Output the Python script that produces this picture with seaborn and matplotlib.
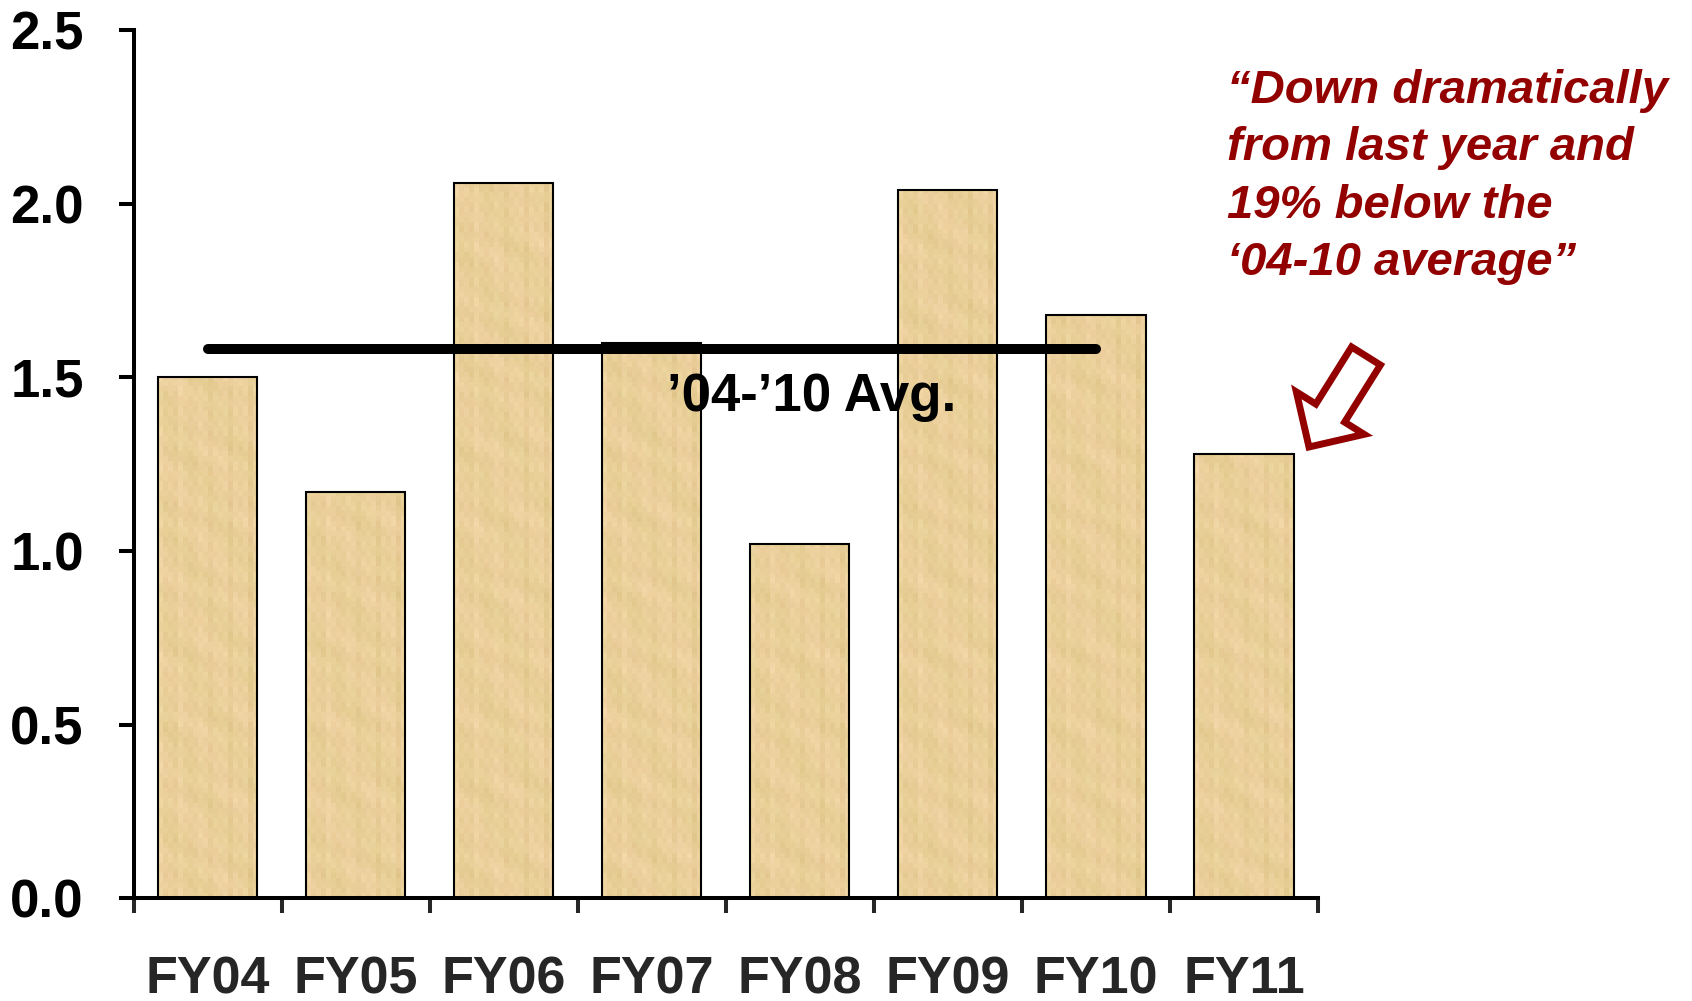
import numpy as np
import pandas as pd
import matplotlib
matplotlib.use("Agg")
import matplotlib.pyplot as plt
from matplotlib.patches import Rectangle, FancyArrow
from matplotlib.transforms import Affine2D
import seaborn as sns

# Fiscal-year values
years = ["FY04", "FY05", "FY06", "FY07", "FY08", "FY09", "FY10", "FY11"]
values = [1.50, 1.17, 2.06, 1.60, 1.02, 2.04, 1.68, 1.28]
avg_years = ["FY04", "FY05", "FY06", "FY07", "FY08", "FY09", "FY10"]
y_ticks = [0.0, 0.5, 1.0, 1.5, 2.0, 2.5]

avg_label = "\u201904-\u201910 Avg."
callout = "\u201cDown dramatically\nfrom last year and\n19% below the\n\u201804-10 average\u201d"

sns.set_style("ticks")
plt.rcParams["font.family"] = ["Liberation Sans", "DejaVu Sans"]
plt.rcParams["font.weight"] = "bold"

W, H = 1692, 1001
fig = plt.figure(figsize=(W / 100, H / 100), dpi=100)
ax = fig.add_axes([133.5 / W, (H - 898.4) / H, (1318 - 133.5) / W, (898.4 - 30) / H])

df = pd.DataFrame({"year": years, "value": values})
BAR_FACE = "#E6CE95"
sns.barplot(data=df, x="year", y="value", color=BAR_FACE, saturation=1,
            width=0.67, edgecolor="none", linewidth=0, ax=ax, zorder=2)

# papyrus-like fill texture, clipped to each bar, with a crisp outline on top
base = np.array([231, 207, 150]) / 255.0
for p in list(ax.patches):
    x0, w, h = p.get_x(), p.get_width(), p.get_height()
    nx = 20
    ny = max(2, int(round(h * 347 / 5)))
    C, R = np.meshgrid(np.arange(nx), np.arange(ny))
    v = (0.45 * np.sin(2.3 * C + 1.1) * np.cos(0.7 * C)
         + 0.30 * np.sin(0.9 * R + 0.4 * C) * np.sin(0.23 * R)
         + 0.25 * np.cos(1.7 * R + 2.9 * C))
    pink = 0.5 + 0.5 * np.sin(0.31 * R + 0.57 * C + x0)
    tex = np.empty((ny, nx, 3))
    tex[..., 0] = base[0] + (9 * v + 6 * pink) / 255
    tex[..., 1] = base[1] + (11 * v + 1 * pink) / 255
    tex[..., 2] = base[2] + (15 * v + 8 * pink) / 255
    tex = np.clip(tex, 0, 1)
    im = ax.imshow(tex, extent=(x0, x0 + w, 0, h), origin="lower",
                   interpolation="nearest", aspect="auto", zorder=2.5)
    im.set_clip_path(p)
    ax.add_patch(Rectangle((x0, 0), w, h, fill=False, edgecolor="black",
                           linewidth=1.5, zorder=3))

# average line across FY04-FY10
avg = float(np.mean([values[years.index(y)] for y in avg_years]))
ax.plot([years.index(avg_years[0]), years.index(avg_years[-1])], [avg, avg],
        color="black", linewidth=7.2, solid_capstyle="round", zorder=4)
ax.text(4.08, 1.404, avg_label, ha="center", va="baseline", fontsize=38,
        fontweight="bold", color="black", zorder=5)

ax.set_xlim(-0.5, len(years) - 0.5)
ax.set_ylim(0, 2.5)
ax.set_xlabel("")
ax.set_ylabel("")

# y axis
ax.set_yticks(y_ticks)
ax.set_yticklabels([f"{t:.1f}" for t in y_ticks])
ax.tick_params(axis="y", direction="out", length=10.8, width=2.9, pad=25,
               labelsize=38, colors="black")

# x axis: ticks between categories, labels under bars
ax.set_xticks(np.arange(-0.5, len(years), 1.0))
ax.set_xticklabels([])
ax.set_xticks(np.arange(len(years)), minor=True)
ax.set_xticklabels(years, minor=True)
ax.tick_params(axis="x", which="major", direction="out", length=10.8, width=2.9)
ax.tick_params(axis="x", which="minor", length=0, pad=41, labelsize=37.5)
for lab in ax.get_xticklabels(minor=True) + ax.get_yticklabels():
    lab.set_fontweight("bold")

for side in ["top", "right"]:
    ax.spines[side].set_visible(False)
for side in ["left", "bottom"]:
    ax.spines[side].set_linewidth(2.9)
    ax.spines[side].set_color("black")

# callout text and hollow arrow
RED = "#920000"
fig.text(1227 / W, 1 - 275 / H, callout, ha="left", va="baseline",
         fontsize=34, fontweight="bold", fontstyle="italic", color=RED,
         linespacing=1.39)

px = Affine2D().scale(1 / W, 1 / H) + fig.transFigure
arrow = FancyArrow(1366, H - 356, -57, -91, width=34, head_width=80,
                   head_length=40, length_includes_head=True,
                   facecolor="white", edgecolor=RED, linewidth=5,
                   joinstyle="miter", transform=px)
fig.add_artist(arrow)

fig.savefig("out.png", dpi=100)
